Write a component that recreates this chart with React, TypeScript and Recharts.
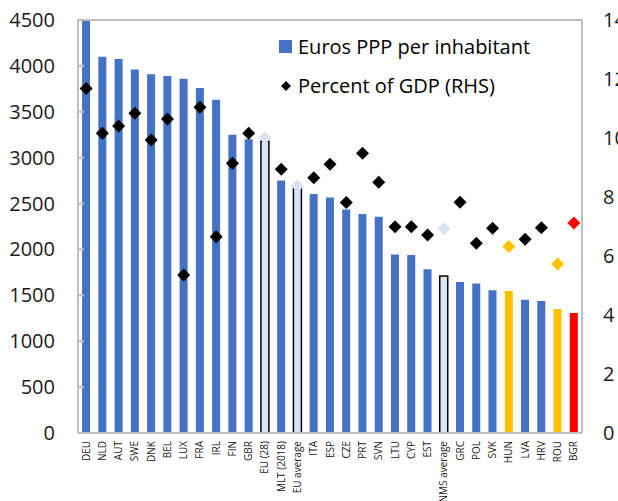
import { Bar, Cell, ComposedChart, ReferenceLine, Scatter, XAxis, YAxis } from "recharts";

const categories = [
  "DEU", "NLD", "AUT", "SWE", "DNK", "BEL", "LUX", "FRA", "IRL", "FIN", "GBR",
  "EU (28)", "MLT (2018)", "EU average", "ITA", "ESP", "CZE", "PRT", "SVN", "LTU",
  "CYP", "EST", "NMS average", "GRC", "POL", "SVK", "HUN", "LVA", "HRV", "ROU", "BGR",
];

const eurosPpp = [
  4500, 4100, 4075, 3960, 3910, 3890, 3860, 3760, 3630, 3250, 3200,
  3180, 2750, 2670, 2605, 2565, 2435, 2385, 2355, 1945,
  1940, 1785, 1710, 1645, 1630, 1555, 1548, 1452, 1438, 1352, 1308,
];

const pctGdp = [
  11.68, 10.16, 10.41, 10.84, 9.93, 10.64, 5.36, 11.04, 6.65, 9.14, 10.16,
  10.01, 8.94, 8.37, 8.65, 9.11, 7.81, 9.48, 8.5, 6.99,
  6.99, 6.71, 6.92, 7.82, 6.43, 6.94, 6.32, 6.57, 6.96, 5.73, 7.12,
];

const aggregates = ["EU (28)", "EU average", "NMS average"];
const highlighted = ["HUN", "ROU"];
const lowest = ["BGR"];

const leftTicks = [0, 500, 1000, 1500, 2000, 2500, 3000, 3500, 4000, 4500];
const rightTicks = [0, 2, 4, 6, 8, 10, 12, 14];

const data = categories.map((name, i) => ({ name, euros: eurosPpp[i], pct: pctGdp[i] }));

const FONT = "'Open Sans', 'Noto Sans', sans-serif";
const BLUE = "#4472C4";
const LIGHT = "#DAE3F3";
const GOLD = "#FFC000";
const RED = "#FF0000";
const AXIS = "#BFBFBF";

function barFill(name: string) {
  if (aggregates.includes(name)) return LIGHT;
  if (highlighted.includes(name)) return GOLD;
  if (lowest.includes(name)) return RED;
  return BLUE;
}

function dotFill(name: string) {
  if (aggregates.includes(name)) return LIGHT;
  if (highlighted.includes(name)) return GOLD;
  if (lowest.includes(name)) return RED;
  return "#000";
}

function Diamond(props: any) {
  const { cx, cy, payload } = props;
  const r = 6.5;
  return (
    <polygon
      points={`${cx},${cy - r} ${cx + r},${cy} ${cx},${cy + r} ${cx - r},${cy}`}
      fill={dotFill(payload.name)}
    />
  );
}

function CategoryTick(props: any) {
  const { x, y, payload } = props;
  return (
    <text
      x={x}
      y={y}
      dy="0.35em"
      transform={`rotate(-90 ${x} ${y})`}
      textAnchor="end"
      fontFamily={FONT}
      fontSize={10}
      fill="#1a1a1a"
    >
      {payload.value}
    </text>
  );
}

function LeftTick(props: any) {
  const { x, y, payload } = props;
  return (
    <g>
      <line x1={x + 23} x2={x + 29} y1={y} y2={y} stroke={AXIS} strokeWidth={2} />
      <text x={x} y={y} dy="0.35em" textAnchor="end" fontFamily={FONT} fontSize={20} fill="#1a1a1a">
        {payload.value}
      </text>
    </g>
  );
}

function LegendBox() {
  const row = { display: "flex", alignItems: "center", height: 39 };
  return (
    <div
      style={{
        position: "absolute",
        left: 279,
        top: 27,
        fontFamily: FONT,
        fontSize: 20,
        color: "#000",
        whiteSpace: "nowrap",
      }}
    >
      <div style={row}>
        <span style={{ width: 13, height: 13, background: BLUE, marginRight: 6 }} />
        <span>Euros PPP per inhabitant</span>
      </div>
      <div style={row}>
        <svg width={14} height={12} style={{ marginRight: 5 }}>
          <polygon points="7,1 12,6 7,11 2,6" fill="#000" />
        </svg>
        <span>Percent of GDP (RHS)</span>
      </div>
    </div>
  );
}

export default function App() {
  return (
    <div style={{ position: "absolute", left: 0, top: 0, width: 618, height: 501, background: "#fff" }}>
      <ComposedChart
        width={618}
        height={501}
        data={data}
        margin={{ top: 20, right: 0, bottom: 0, left: 0 }}
        barCategoryGap="25%"
      >
        <XAxis
          dataKey="name"
          height={68}
          interval={0}
          tick={<CategoryTick />}
          tickLine={false}
          axisLine={{ stroke: AXIS, strokeWidth: 2 }}
        />
        <YAxis
          yAxisId="left"
          width={78}
          domain={[0, 4500]}
          ticks={leftTicks}
          tickSize={0}
          tickMargin={23}
          tick={<LeftTick />}
          tickLine={false}
          axisLine={{ stroke: AXIS, strokeWidth: 2 }}
        />
        <YAxis
          yAxisId="right"
          orientation="right"
          width={36}
          domain={[0, 14]}
          ticks={rightTicks}
          tickSize={0}
          tickMargin={21}
          tickLine={false}
          tick={{ fontFamily: FONT, fontSize: 20, fill: "#1a1a1a" }}
          axisLine={{ stroke: AXIS, strokeWidth: 2 }}
        />
        <Bar dataKey="euros" yAxisId="left" isAnimationActive={false}>
          {data.map((d) => (
            <Cell
              key={d.name}
              fill={barFill(d.name)}
              stroke={aggregates.includes(d.name) ? "#000" : "none"}
              strokeWidth={1.5}
            />
          ))}
        </Bar>
        <ReferenceLine yAxisId="left" y={4500} stroke={AXIS} strokeWidth={2} />
        <Scatter dataKey="pct" yAxisId="right" shape={<Diamond />} isAnimationActive={false} />
      </ComposedChart>
      <LegendBox />
    </div>
  );
}
